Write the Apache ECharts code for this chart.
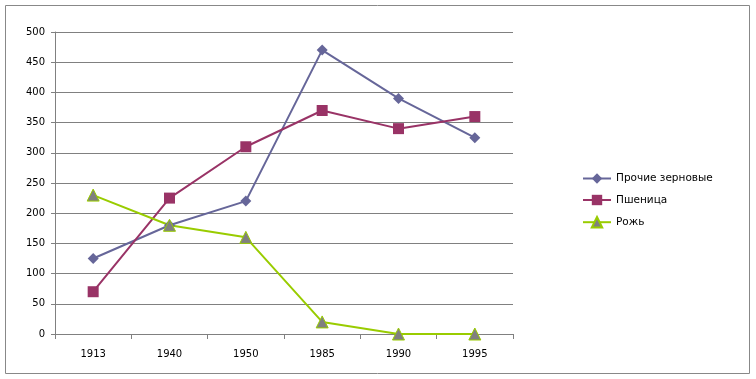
<!DOCTYPE html>
<html><head><meta charset="utf-8">
<script src="https://cdn.jsdelivr.net/npm/echarts@6/dist/echarts.min.js"></script>
<style>html,body{margin:0;padding:0;background:#fff}#c{width:756px;height:379px}</style>
</head><body><div id="c"></div>
<script>
const categories = ['1913','1940','1950','1985','1990','1995'];
const prochie = [125, 180, 220, 470, 390, 325];
const pshenica = [70, 225, 310, 370, 340, 360];
const rozh = [230, 180, 160, 20, 0, 0];
const seriesNames = ['Прочие зерновые','Пшеница','Рожь'];

const chart = echarts.init(document.getElementById('c'));
const font = 'DejaVu Sans';
chart.setOption({
  animation:false,
  textStyle:{fontFamily:font},
  graphic:[{type:'rect',shape:{x:5.5,y:5.5,width:744,height:368},style:{fill:'none',stroke:'#888',lineWidth:1}}],
  grid:{left:55,right:243,top:32,bottom:45},
  legend:{
    orient:'vertical',left:577,top:168,itemGap:10.5,itemWidth:28,itemHeight:13,
    textStyle:{fontFamily:font,fontSize:10.5,color:'#000'},
    data:seriesNames
  },
  xAxis:{type:'category',data:categories,boundaryGap:true,
    axisLine:{lineStyle:{color:'#808080'}},
    axisTick:{show:true,length:5,lineStyle:{color:'#808080'}},
    axisLabel:{color:'#000',fontSize:10,margin:15,fontFamily:font}},
  yAxis:{type:'value',min:0,max:500,interval:50,
    axisLine:{show:true,lineStyle:{color:'#808080'}},
    axisTick:{show:true,length:4,lineStyle:{color:'#808080'}},
    splitLine:{lineStyle:{color:'#808080'}},
    axisLabel:{color:'#000',fontSize:10,margin:10,fontFamily:font}},
  series:[
    {name:seriesNames[0],type:'line',data:prochie,symbol:'diamond',symbolSize:11,
     lineStyle:{color:'#666699',width:2},itemStyle:{color:'#666699'}},
    {name:seriesNames[1],type:'line',data:pshenica,symbol:'rect',symbolSize:11,
     lineStyle:{color:'#993366',width:2},itemStyle:{color:'#993366'}},
    {name:seriesNames[2],type:'line',data:rozh,symbol:'triangle',symbolSize:12,
     lineStyle:{color:'#99CC00',width:2},itemStyle:{color:'#808080',borderColor:'#99CC00',borderWidth:1}}
  ]
});
</script></body></html>
